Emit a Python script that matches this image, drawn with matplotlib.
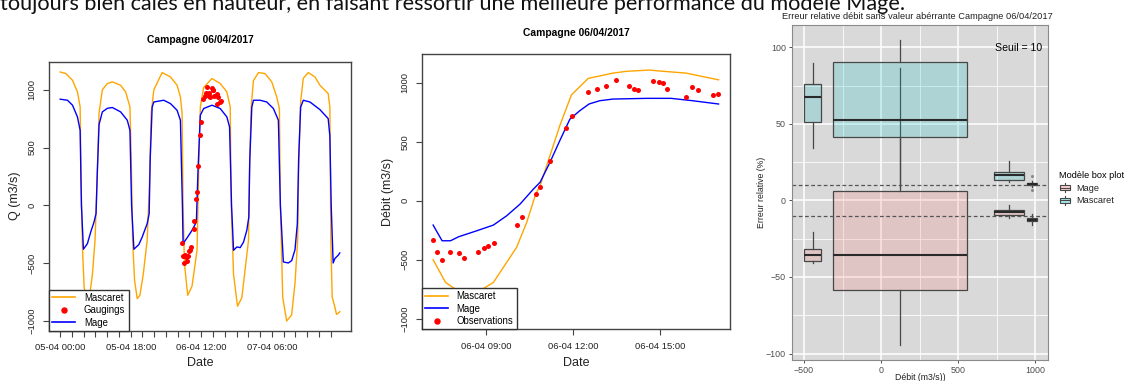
import numpy as np
import matplotlib.pyplot as plt
from matplotlib.lines import Line2D
from matplotlib.patches import Rectangle, Patch
from matplotlib.legend_handler import HandlerBase

plt.rcParams['font.family'] = ['Liberation Sans', 'DejaVu Sans']

W, H = 1130, 381

# ---- simulated discharge (hours since 05-04 00:00) ----
masc_t = [0.0, 1.44, 3.14, 4.41, 5.09, 5.34, 5.68, 6.10, 6.70, 7.37, 8.22, 8.90,
          9.49, 9.92, 10.76, 12.03, 13.31, 15.42, 16.70, 17.80, 18.14, 18.48, 18.98,
          19.66, 20.34, 21.19, 22.20, 22.80, 23.22, 23.90, 26.02, 28.14, 29.83, 30.68,
          31.10, 31.36, 31.70, 32.54, 33.65, 34.92, 35.34, 35.76, 36.61, 38.73, 40.85,
          42.54, 43.39, 43.65, 44.24, 45.26, 46.36, 48.06, 48.31, 48.73, 49.32, 50.60,
          52.29, 53.99, 55.26, 55.94, 56.19, 56.79, 57.80, 59.07, 59.92, 60.60, 60.85,
          61.36, 62.04, 63.31, 65.01, 66.28, 68.39, 68.82, 69.07, 69.41, 70.09, 70.51,
          70.94, 71.36]
masc_q = [1155, 1141, 1083, 982, 852, 200, -361, -700, -880, -820, -600, -300,
          300, 800, 1000, 1055, 1069, 1040, 982, 852, 400, -300, -650,
          -809, -780, -600, -303, 200, 800, 1000, 1150, 1112, 1040, 939,
          800, 0, -500, -780, -700, -390, 300, 850, 1020, 1098, 1055,
          982, 852, 0, -600, -875, -800, -303, 300, 850, 1080, 1150,
          1141, 1069, 939, 838, 0, -800, -1003, -950, -676, -303, 300,
          900, 1100, 1150, 1112, 1040, 968, 850, -300, -795, -881, -945,
          -935, -922]

mage_t = [0.0, 1.86, 3.14, 4.41, 5.09, 5.42, 5.93, 6.95, 7.80, 8.64, 9.15, 9.49,
          9.92, 10.76, 12.03, 13.31, 15.42, 17.12, 17.80, 18.22, 18.81, 20.08, 20.93,
          22.20, 22.71, 22.97, 23.47, 23.90, 26.44, 28.14, 29.83, 30.68, 31.19, 31.36,
          32.37, 33.65, 34.75, 35.17, 35.76, 36.61, 38.73, 40.85, 42.54, 43.22, 43.73,
          44.24, 45.09, 45.93, 46.78, 47.63, 48.14, 48.39, 48.90, 49.32, 51.02, 52.71,
          54.41, 55.68, 56.19, 56.95, 58.22, 59.07, 59.92, 60.52, 60.85, 61.36, 62.04,
          63.73, 66.28, 68.39, 68.82, 69.16, 69.66, 70.09, 70.94, 71.36]
mage_q = [919, 910, 867, 765, 650, 0, -381, -332, -231, -145, -72, 300,
          700, 809, 840, 847, 809, 737, 650, 0, -381, -340, -275,
          -159, -72, 400, 850, 895, 910, 881, 823, 737, 0, -332,
          -283, -217, -145, 300, 780, 838, 867, 838, 765, 679, 0,
          -390, -361, -367, -320, -217, -101, 400, 850, 910, 910, 895,
          838, 737, 0, -491, -500, -480, -386, -159, 400, 850, 910,
          895, 829, 751, 600, 0, -500, -462, -433, -413]

# ---- campaign of 06-04, finer output ----
zoom_masc_t = [31.17, 31.60, 32.00, 32.40, 32.80, 33.25, 34.05, 34.40, 34.71, 34.86,
               35.20, 35.54, 35.94, 36.52, 37.38, 37.84, 38.64, 38.96, 39.90, 41.02]
zoom_masc_q = [-500, -692, -760, -785, -760, -692, -395, -183, 57, 127,
               381, 636, 896, 1037, 1082, 1097, 1108, 1100, 1082, 1025]
zoom_mage_t = [31.17, 31.48, 31.77, 32.05, 32.68, 33.25, 33.71, 34.17, 34.63, 34.86,
               35.20, 35.54, 35.89, 36.23, 36.55, 36.92, 37.38, 38.53, 39.38, 40.12, 41.02]
zoom_mage_q = [-206, -339, -339, -305, -254, -206, -127, -28, 99, 156,
               325, 509, 692, 763, 820, 848, 862, 868, 868, 848, 820]

# gaugings
obs_t = [31.17, 31.32, 31.48, 31.74, 32.05, 32.24, 32.71, 32.91, 33.08, 33.27,
         34.05, 34.22, 34.71, 34.86, 35.22, 35.76, 35.97, 36.52, 36.83, 37.15,
         37.47, 37.93, 38.09, 38.23, 38.75, 38.96, 39.09, 39.23, 39.91, 40.09,
         40.31, 40.84, 41.00]
obs_q = [-330, -438, -503, -432, -446, -486, -438, -398, -384, -359,
         -203, -138, 57, 119, 339, 613, 721, 921, 949, 975,
         1023, 969, 944, 938, 1017, 1003, 997, 949, 881, 963,
         938, 896, 901]

date_ticks = list(range(0, 70, 3))
date_labels = {0: '05-04 00:00', 18: '05-04 18:00', 36: '06-04 12:00', 54: '07-04 06:00'}
zoom_ticks = [33, 36, 39]
zoom_labels = ['06-04 09:00', '06-04 12:00', '06-04 15:00']
q_ticks = [-1000, -500, 0, 500, 1000]

# ---- relative error boxplots by discharge class ----
box_x = [-444, 124, 830, 976]
box_w = [112, 870, 199, 65]
mage_q1 = [-39.9, -58.8, -9.4, -13.7]
mage_med = [-35.5, -35.9, -7.8, -12.6]
mage_q3 = [-31.8, 5.9, -6.1, -11.5]
mage_lo = [-40.8, -94.3, -11.5, -16.3]
mage_hi = [-20.9, 86.5, -2.8, -8.7]
masc_q1 = [51.2, 41.4, 13.5, 9.8]
masc_med = [67.3, 52.7, 16.4, 10.5]
masc_q3 = [76.1, 90.4, 18.5, 11.4]
masc_lo = [34.2, 8.0, 12.0, 9.0]
masc_hi = [89.8, 104.6, 25.5, 12.5]
masc_out = [[], [], [], [15.7, 6.5]]
seuil = 10

ORANGE, BLUE, RED = '#FFA500', '#0000FF', '#FF0000'
PINK, CYAN = '#F8766D', '#00BFC4'
BOX_ALPHA = '33'


def px_axes(l, t, r, b):
    return fig.add_axes([l / W, 1 - b / H, (r - l) / W, (b - t) / H])


def r_style(ax):
    for s in ax.spines.values():
        s.set_color('#444444')
        s.set_linewidth(1.0)
    ax.tick_params(direction='out', length=4, width=0.8, color='#444444',
                   labelsize=6.8, labelcolor='#222222', pad=5)
    ax.tick_params(axis='y', labelrotation=90)
    for lbl in ax.get_yticklabels():
        lbl.set_va('center')


def r_legend(ax, handles):
    leg = ax.legend(handles=handles, loc='lower left', borderaxespad=0,
                    fancybox=False, edgecolor='#333333', framealpha=1,
                    fontsize=6.9, handlelength=2.4, handletextpad=0.9,
                    labelspacing=0.25, borderpad=0.35)
    leg.get_frame().set_linewidth(1.0)


fig = plt.figure(figsize=(W / 100, H / 100), dpi=100)

fig.text(0.0, 1 - 10 / H,
         'toujours bien calés en hauteur, en faisant ressortir une meilleure '
         'performance du modèle Mage.',
         family='Lato', fontsize=15.6, color='#111111', va='baseline', ha='left')

# ---- panel 1: whole period ----
ax1 = px_axes(49, 62, 351, 331)
ax1.plot(masc_t, masc_q, color=ORANGE, lw=1.0)
ax1.plot(mage_t, mage_q, color=BLUE, lw=1.0)
ax1.plot(obs_t, obs_q, 'o', color=RED, ms=3.6, mec='none')
ax1.margins(x=0.04, y=0.04)
ylim = ax1.get_ylim()
ax1.set_xticks(date_ticks)
ax1.set_xticklabels([date_labels.get(h, '') for h in date_ticks])
ax1.set_yticks(q_ticks)
r_style(ax1)
r_legend(ax1, [Line2D([], [], color=ORANGE, lw=1.2, label='Mascaret'),
               Line2D([], [], ls='none', marker='o', color=RED, ms=3.6, label='Gaugings'),
               Line2D([], [], color=BLUE, lw=1.2, label='Mage')])
fig.text(200 / W, 1 - 40 / H, 'Campagne 06/04/2017', fontsize=7.4,
         weight='bold', ha='center', va='center')
fig.text(200 / W, 1 - 363 / H, 'Date', fontsize=9, ha='center', va='center', color='#222222')
fig.text(15 / W, 1 - 196 / H, 'Q (m3/s)', fontsize=9, rotation=90,
         ha='center', va='center', color='#222222')

# ---- panel 2: campaign zoom ----
ax2 = px_axes(421.7, 54.3, 730, 329.3)
ax2.plot(zoom_masc_t, zoom_masc_q, color=ORANGE, lw=1.0)
ax2.plot(zoom_mage_t, zoom_mage_q, color=BLUE, lw=1.0)
ax2.plot(obs_t, obs_q, 'o', color=RED, ms=3.6, mec='none')
ax2.margins(x=0.04)
ax2.set_ylim(ylim)
ax2.set_xticks(zoom_ticks)
ax2.set_xticklabels(zoom_labels)
ax2.set_yticks(q_ticks)
r_style(ax2)
r_legend(ax2, [Line2D([], [], color=ORANGE, lw=1.2, label='Mascaret'),
               Line2D([], [], color=BLUE, lw=1.2, label='Mage'),
               Line2D([], [], ls='none', marker='o', color=RED, ms=3.6, label='Observations')])
fig.text(576 / W, 1 - 33 / H, 'Campagne 06/04/2017', fontsize=7.4,
         weight='bold', ha='center', va='center')
fig.text(576 / W, 1 - 363 / H, 'Date', fontsize=9, ha='center', va='center', color='#222222')
fig.text(388 / W, 1 - 192 / H, 'Débit (m3/s)', fontsize=9, rotation=90,
         ha='center', va='center', color='#222222')

# ---- panel 3: relative error boxplots ----
ax3 = px_axes(792.3, 25, 1048.3, 360)
ax3.set_facecolor('#D9D9D9')
ax3.set_axisbelow(True)


def stats(q1, med, q3, lo, hi, out=None):
    return [dict(q1=q1[i], med=med[i], q3=q3[i], whislo=lo[i], whishi=hi[i],
                 fliers=(out[i] if out else [])) for i in range(len(q1))]


for st, col in [(stats(mage_q1, mage_med, mage_q3, mage_lo, mage_hi), PINK),
                (stats(masc_q1, masc_med, masc_q3, masc_lo, masc_hi, masc_out), CYAN)]:
    ax3.bxp(st, positions=box_x, widths=box_w, patch_artist=True, showcaps=False,
            manage_ticks=False,
            boxprops=dict(facecolor=col + BOX_ALPHA, edgecolor='#474747', lw=0.9),
            medianprops=dict(color='#2a2a2a', lw=1.5),
            whiskerprops=dict(color='#474747', lw=0.9),
            flierprops=dict(marker='o', ms=2.2, mfc='#8a8a8a', mec='none'))

for s in (seuil, -seuil):
    ax3.axhline(s, color='#555555', lw=0.9, ls=(0, (3, 2)))

x_lo = min(np.subtract(box_x, np.divide(box_w, 2)))
x_hi = max(np.add(box_x, np.divide(box_w, 2)))
y_lo, y_hi = min(mage_lo), max(masc_hi)
ax3.set_xlim(x_lo - 0.05 * (x_hi - x_lo), x_hi + 0.05 * (x_hi - x_lo))
ax3.set_ylim(y_lo - 0.05 * (y_hi - y_lo), y_hi + 0.05 * (y_hi - y_lo))
ax3.set_xticks([-500, 0, 500, 1000])
ax3.set_xticks([-250, 250, 750], minor=True)
ax3.set_yticks([-100, -50, 0, 50, 100])
ax3.set_yticks([-75, -25, 25, 75], minor=True)
ax3.grid(which='major', color='white', lw=1.1)
ax3.grid(which='minor', color='white', lw=0.55)
ax3.tick_params(which='major', length=2.5, width=0.6, color='#333333',
                labelsize=6.4, labelcolor='#4D4D4D', pad=2)
ax3.tick_params(which='minor', length=0)
for s in ax3.spines.values():
    s.set_color('#8a8a8a')
    s.set_linewidth(0.8)
ax3.text(0.975, 0.93, 'Seuil = ' + str(seuil), transform=ax3.transAxes,
         fontsize=7.6, ha='right', va='center')

fig.text(917 / W, 1 - 16.5 / H,
         'Erreur relative débit sans valeur abérrante Campagne 06/04/2017',
         fontsize=6.7, ha='center', va='center', color='#222222')
fig.text(762 / W, 1 - 192 / H, 'Erreur relative (%)', fontsize=6.3, rotation=90,
         ha='center', va='center', color='#222222')
fig.text(920 / W, 1 - 378 / H, 'Débit (m3/s))', fontsize=6.3,
         ha='center', va='center', color='#222222')


class BoxKey(HandlerBase):
    def create_artists(self, legend, orig_handle, xdescent, ydescent,
                       width, height, fontsize, trans):
        x0, y0 = -xdescent, -ydescent
        fc = orig_handle.get_facecolor()
        kw = dict(color='#474747', lw=0.8, transform=trans)
        rect = Rectangle((x0 + 0.1 * width, y0 + 0.2 * height), 0.8 * width, 0.6 * height,
                         facecolor=fc, edgecolor='#474747', lw=0.8, transform=trans)
        med = Line2D([x0 + 0.1 * width, x0 + 0.9 * width], [y0 + 0.5 * height] * 2, **kw)
        top = Line2D([x0 + 0.5 * width] * 2, [y0 + 0.8 * height, y0 + height], **kw)
        bot = Line2D([x0 + 0.5 * width] * 2, [y0, y0 + 0.2 * height], **kw)
        return [rect, med, top, bot]


leg3 = ax3.legend(handles=[Patch(facecolor=PINK + '55', label='Mage'),
                           Patch(facecolor=CYAN + '55', label='Mascaret')],
                  handler_map={Patch: BoxKey()}, title='Modèle box plot',
                  loc='upper left', bbox_to_anchor=(1059 / W, 1 - 171 / H),
                  bbox_transform=fig.transFigure, frameon=False, borderaxespad=0,
                  borderpad=0, fontsize=6.6, title_fontsize=6.6, alignment='left',
                  handlelength=1.3, handleheight=1.1, handletextpad=0.6,
                  labelspacing=0.35)
for t in leg3.get_texts():
    t.set_color('#222222')

fig.savefig('out.png', dpi=100)
